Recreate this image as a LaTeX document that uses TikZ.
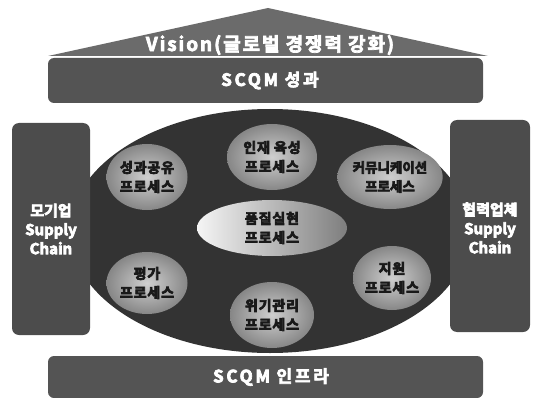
\documentclass[tikz,border=0pt]{standalone}
\usepackage{fontspec}
\setmainfont{Noto Sans CJK KR Bold}
\usetikzlibrary{shapes.geometric}
\definecolor{tricol}{gray}{0.42}
\definecolor{barcol}{gray}{0.33}
\definecolor{sidecol}{gray}{0.30}
\definecolor{bigcol}{gray}{0.20}
\definecolor{ballcol}{gray}{0.66}
\definecolor{balltxt}{gray}{0.10}
\newcommand\heavytxt[1]{\special{pdf:literal direct 2 Tr 0.7 w}#1\special{pdf:literal direct 0 Tr}}
\begin{document}
\begin{tikzpicture}[x=1pt,y=-1pt,
  bartile/.style={rectangle, rounded corners=6pt, fill=barcol,
    minimum width=435pt, minimum height=45pt, inner sep=0pt},
  bartxt/.style={text=white, inner sep=0pt,
    font=\fontsize{17}{19}\selectfont\addfontfeatures{LetterSpace=16}},
  sidebox/.style={rectangle, rounded corners=7pt, fill=sidecol, inner sep=0pt},
  sidetxt/.style={text=white, font=\fontsize{15}{19}\selectfont, align=center},
  ball/.style={ellipse, inner color=ballcol!55!white, outer color=ballcol!80!black,
    text=balltxt, align=center, inner sep=0pt,
    font=\fontsize{14}{19}\selectfont\addfontfeatures{LetterSpace=6}}]
\useasboundingbox (0,0) rectangle (537,398);
% vision triangle
\path[fill=tricol] (48,56) -- (268,8) -- (488,56) -- cycle;
\node[text=white, font=\fontsize{19}{21}\selectfont\addfontfeatures{LetterSpace=10}]
  (vision) at (270,45) {\heavytxt{Vision(글로벌 경쟁력 강화)}};
% result bar
\node[bartile] (result) at (265.5,80.5) {};
\node[bartxt] (resulttxt) at (270,80.5) {\heavytxt{SCQM 성과}};
% core ellipse
\node[ellipse, fill=bigcol, minimum width=400pt, minimum height=244pt, inner sep=0pt] (core) at (270,231) {};
% side boxes
\node[sidebox, minimum width=78pt, minimum height=212pt] (mother) at (51,229) {};
\node[sidetxt] (mothertxt) at (mother.center) {\heavytxt{모기업}\\\heavytxt{Supply}\\\heavytxt{Chain}};
\node[sidebox, minimum width=80pt, minimum height=212pt] (partner) at (490,226) {};
\node[sidetxt] (partnertxt) at (490,228) {\heavytxt{협력업체}\\\heavytxt{Supply}\\\heavytxt{Chain}};
% process balls
\node[ball, minimum width=90pt, minimum height=66pt] (talent) at (272,157) {\heavytxt{인재 육성}\\\heavytxt{프로세스}};
\node[ball, minimum width=81pt, minimum height=66pt] (share) at (147,177) {\heavytxt{성과공유}\\\heavytxt{프로세스}};
\node[ball, minimum width=94pt, minimum height=64pt, font=\fontsize{13.5}{19}\selectfont] (comm) at (390,177) {\heavytxt{커뮤니케이션}\\\heavytxt{프로세스}};
\node[ellipse, minimum width=150pt, minimum height=56pt, inner sep=0pt,
  left color=white!92!gray, right color=ballcol!75!black, text=balltxt, align=center,
  font=\fontsize{14}{19}\selectfont\addfontfeatures{LetterSpace=6}] (quality) at (272,228) {\heavytxt{품질실현}\\\heavytxt{프로세스}};
\node[ball, minimum width=81pt, minimum height=62pt] (eval) at (147,283) {\heavytxt{평가}\\\heavytxt{프로세스}};
\node[ball, minimum width=84pt, minimum height=66pt] (risk) at (272,315) {\heavytxt{위기관리}\\\heavytxt{프로세스}};
\node[ball, minimum width=78pt, minimum height=64pt] (support) at (392,278) {\heavytxt{지원}\\\heavytxt{프로세스}};
% infra bar
\node[bartile, minimum height=42pt] (infra) at (265.5,377) {};
\node[bartxt] (infratxt) at (271,377) {\heavytxt{SCQM 인프라}};
\end{tikzpicture}
\end{document}
